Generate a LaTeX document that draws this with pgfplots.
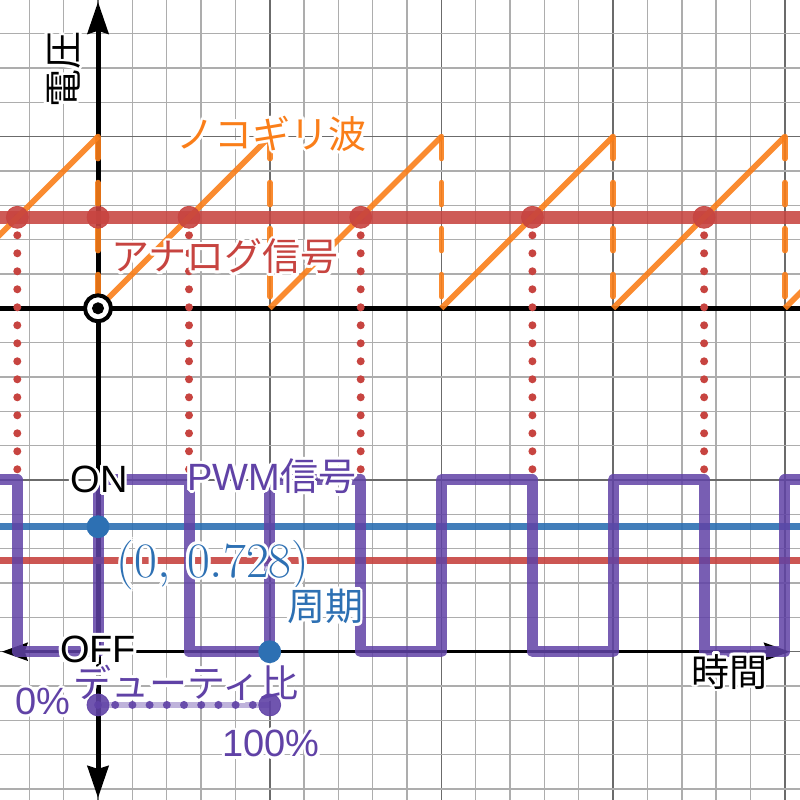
\documentclass[border=0pt]{standalone}
\usepackage{pgfplots}
\pgfplotsset{compat=1.18}
\usepackage{fontspec}
\setmainfont{Liberation Sans}
\newfontfamily\jp{Noto Sans CJK JP}
\usepackage{contour}
\contourlength{1.4bp}
\contournumber{12}
\usetikzlibrary{arrows.meta}
\definecolor{dred}{HTML}{C74440}
\definecolor{dblue}{HTML}{2D70B3}
\definecolor{dpurple}{HTML}{6042A6}
\definecolor{dorange}{HTML}{FA7E19}
\begin{document}
\begin{tikzpicture}
\begin{axis}[name=ax,
  width=400bp, height=400bp, scale only axis,
  xmin=-0.5708, xmax=4.0885, ymin=-2.8637, ymax=1.7956,
  xtick distance=1, ytick distance=1, minor tick num=4,
  grid=both,
  major grid style={black!58, line width=0.8bp},
  minor grid style={black!32, line width=0.7bp},
  xticklabel=\empty, yticklabel=\empty,
  major tick length=0pt, minor tick length=0pt,
  axis line style={draw=none},
  clip=true,
  font=\fontsize{19bp}{23bp}\selectfont,
]
% axes
\addplot[black, line width=2.5bp, -{Stealth[length=16bp,width=10.5bp,inset=1.5bp]}] coordinates {(0,-0.5) (0,1.785)};
\addplot[black, line width=2.5bp, -{Stealth[length=16bp,width=10.5bp,inset=1.5bp]}] coordinates {(0,-0.5) (0,-2.852)};
\addplot[black, line width=2.5bp] coordinates {(-0.6,0) (4.2,0)};
\addplot[black, line width=1.7bp, {Stealth[length=13bp,width=9bp,inset=1.5bp]}-{Stealth[length=13bp,width=9bp,inset=1.5bp]}] coordinates {(-0.561,-2) (4.03,-2)};
% analog signal
\addplot[dred, opacity=0.88, line width=6.5bp] coordinates {(-0.6,0.53) (4.2,0.53)};
% red dotted verticals
\addplot[dred, line width=4bp, dash pattern=on 0bp off 9bp, line cap=round] coordinates {(-0.47,0.53) (-0.47,-1)};
\addplot[dred, line width=4bp, dash pattern=on 0bp off 9bp, line cap=round] coordinates {(0.53,0.53) (0.53,-1)};
\addplot[dred, line width=4bp, dash pattern=on 0bp off 9bp, line cap=round] coordinates {(1.53,0.53) (1.53,-1)};
\addplot[dred, line width=4bp, dash pattern=on 0bp off 9bp, line cap=round] coordinates {(2.53,0.53) (2.53,-1)};
\addplot[dred, line width=4bp, dash pattern=on 0bp off 9bp, line cap=round] coordinates {(3.53,0.53) (3.53,-1)};
% sawtooth
\addplot[dorange, opacity=0.9, line width=2.8bp] coordinates {(-1,0) (0,1)};
\addplot[dorange, opacity=0.9, line width=2.8bp] coordinates {(0,0) (1,1)};
\addplot[dorange, opacity=0.9, line width=2.8bp] coordinates {(1,0) (2,1)};
\addplot[dorange, opacity=0.9, line width=2.8bp] coordinates {(2,0) (3,1)};
\addplot[dorange, opacity=0.9, line width=2.8bp] coordinates {(3,0) (4,1)};
\addplot[dorange, opacity=0.9, line width=2.8bp] coordinates {(4,0) (5,1)};
\addplot[dorange, opacity=0.9, line width=2.8bp, dash pattern=on 11bp off 12bp, line cap=round] coordinates {(0,1) (0,0)};
\addplot[dorange, opacity=0.9, line width=2.8bp, dash pattern=on 11bp off 12bp, line cap=round] coordinates {(1,1) (1,0)};
\addplot[dorange, opacity=0.9, line width=2.8bp, dash pattern=on 11bp off 12bp, line cap=round] coordinates {(2,1) (2,0)};
\addplot[dorange, opacity=0.9, line width=2.8bp, dash pattern=on 11bp off 12bp, line cap=round] coordinates {(3,1) (3,0)};
\addplot[dorange, opacity=0.9, line width=2.8bp, dash pattern=on 11bp off 12bp, line cap=round] coordinates {(4,1) (4,0)};
% crossing points
\addplot[only marks, mark=*, mark size=5.5bp, dred, opacity=0.9] coordinates {(-0.47,0.53) (0,0.53) (0.53,0.53) (1.53,0.53) (2.53,0.53) (3.53,0.53)};
% origin marker
\addplot[only marks, mark=*, mark size=6.5bp, mark options={draw=black, fill=white, line width=2bp}] coordinates {(0,0)};
\addplot[only marks, mark=*, mark size=2.8bp, black] coordinates {(0,0)};
% lower lines
\addplot[dred, opacity=0.9, line width=3.5bp] coordinates {(-0.6,-1.47) (4.2,-1.47)};
\addplot[dblue, opacity=0.9, line width=3.3bp] coordinates {(-0.6,-1.272) (4.2,-1.272)};
% PWM
\addplot[dpurple, opacity=0.85, line width=5.5bp, line join=round, line cap=round] coordinates {
(-0.7,-1) (-0.47,-1) (-0.47,-2) (0,-2) (0,-1) (0.53,-1) (0.53,-2) (1,-2) (1,-1)
(1.53,-1) (1.53,-2) (2,-2) (2,-1) (2.53,-1) (2.53,-2) (3,-2) (3,-1)
(3.53,-1) (3.53,-2) (4,-2) (4,-1) (4.2,-1)};
% blue points
\addplot[only marks, mark=*, mark size=5.5bp, dblue] coordinates {(0,-1.272) (1,-2)};
% duty ratio
\addplot[dpurple, opacity=0.4, line width=3bp] coordinates {(0,-2.31) (1,-2.31)};
\addplot[dpurple, opacity=0.9, line width=4bp, dash pattern=on 0bp off 8.6bp, line cap=round] coordinates {(0,-2.31) (1,-2.31)};
\addplot[only marks, mark=*, mark size=5.5bp, dpurple, opacity=0.9] coordinates {(0,-2.31) (1,-2.31)};
% labels
\node[rotate=90, text=black] at (axis cs:-0.192,1.389) {\contour{white}{\jp 電圧}};
\node[text=dorange] at (axis cs:1.013,1.009) {\contour{white}{\jp ノコギリ波}};
\node[text=dred] at (axis cs:0.740,0.293) {\contour{white}{\jp アナログ信号}};
\node[text=dpurple] at (axis cs:1.013,-0.986) {\contour{white}{PWM{\jp 信号}}};
\node[text=black] at (axis cs:0.006,-1.006) {\contour{white}{ON}};
\node[text=black] at (axis cs:0,-1.996) {\contour{white}{OFF}};
\node[text=dblue] at (axis cs:0.670,-1.501) {\contour{white}{\fontsize{24bp}{28bp}\selectfont$(0,\,0.728)$}};
\node[text=dblue] at (axis cs:1.322,-1.746) {\contour{white}{\jp 周期}};
\node[text=dpurple] at (axis cs:0.513,-2.19) {\contour{white}{\jp デューティ比}};
\node[text=dpurple] at (axis cs:-0.320,-2.298) {\contour{white}{0\%}};
\node[text=dpurple] at (axis cs:1.008,-2.543) {\contour{white}{100\%}};
\node[text=black] at (axis cs:3.675,-2.124) {\contour{white}{\jp 時間}};
\end{axis}
\pgfresetboundingbox
\useasboundingbox (ax.south west) rectangle (ax.north east);
\end{tikzpicture}
\end{document}
